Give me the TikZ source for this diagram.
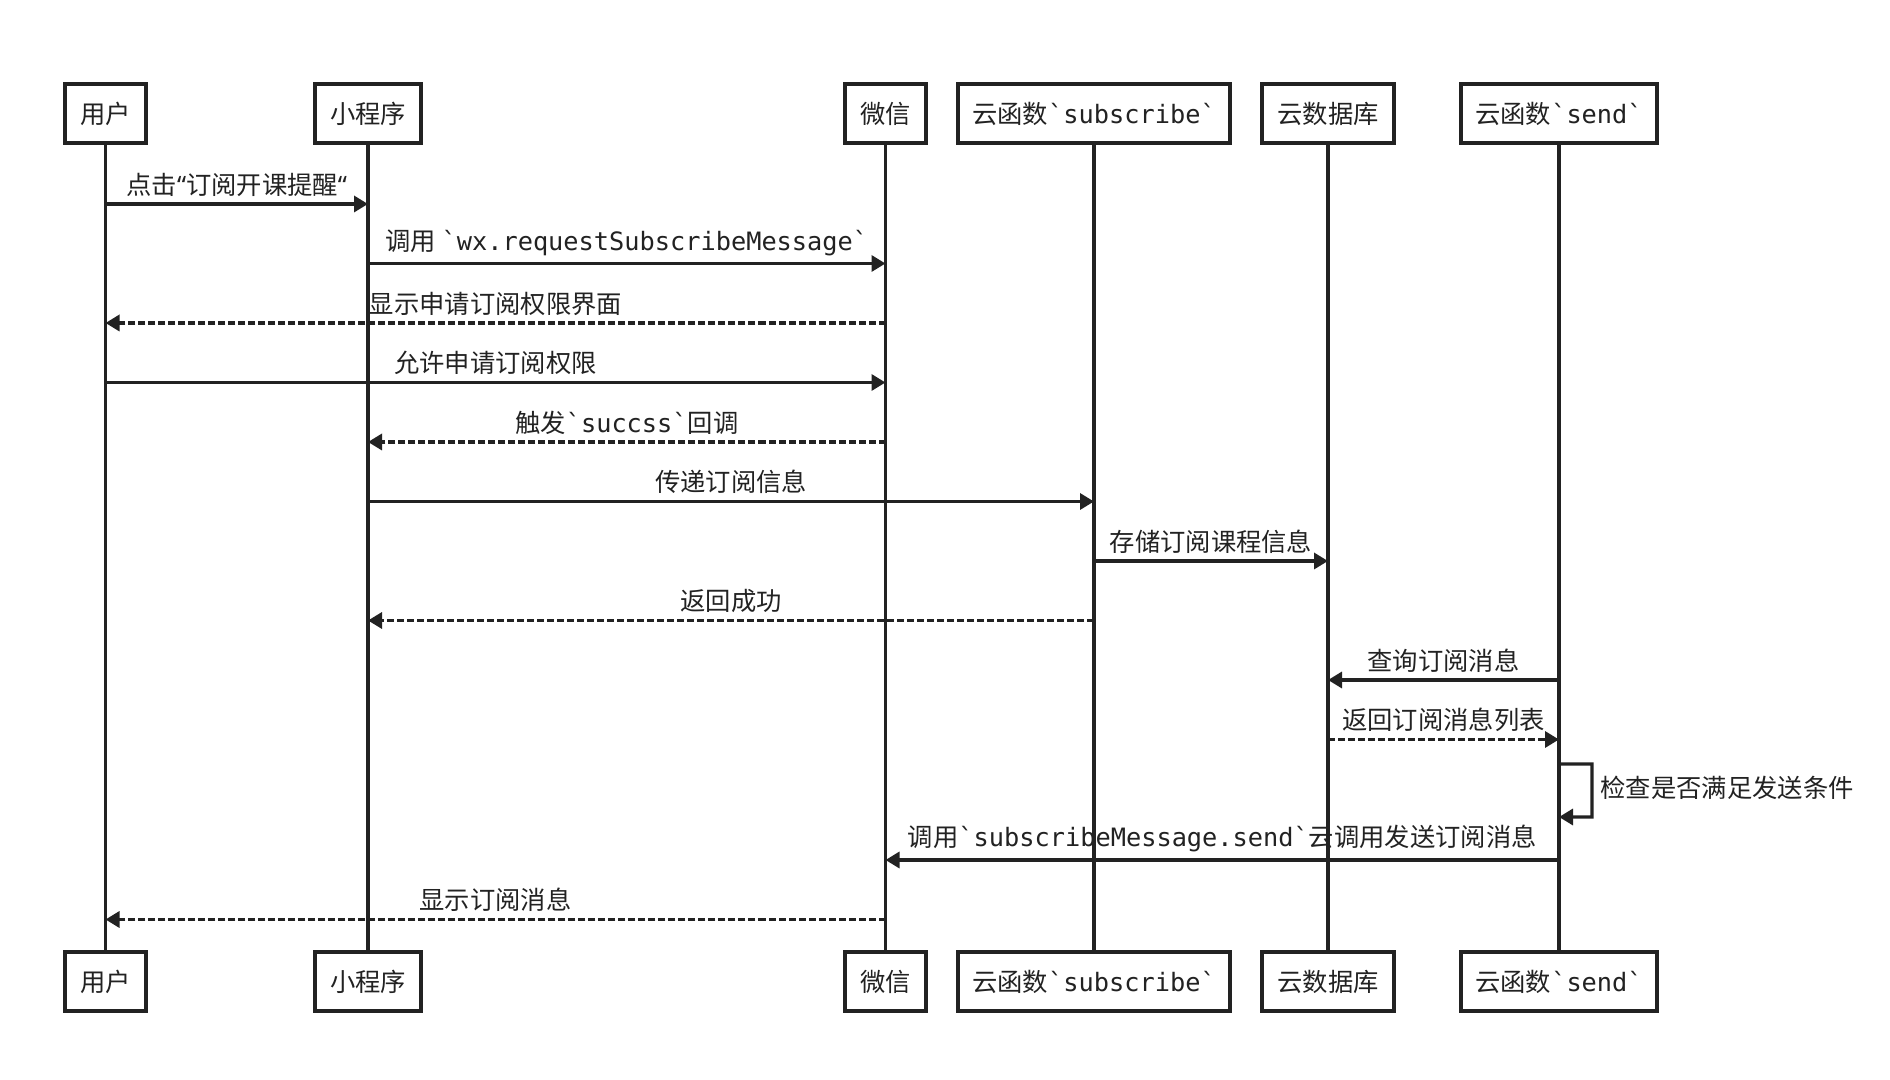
\documentclass[tikz,border=0pt]{standalone}
\usepackage{fontspec}
\setmainfont{Noto Sans CJK SC}
\setmonofont{DejaVu Sans Mono}
\newfontfamily\latinq{Noto Sans}
\usetikzlibrary{arrows.meta,positioning}
\definecolor{tinta}{RGB}{34,34,34}

\begin{document}
\begin{tikzpicture}[
font=\fontsize{7.2pt}{8.6pt}\selectfont,
actor/.style={draw=tinta,line width=1.2pt,fill=white,minimum height=0.59cm,inner sep=0pt,outer sep=0pt,text=tinta},
vida/.style={draw=tinta,line width=0.9pt},
msg/.style={-{Triangle[length=1.4mm,width=1.6mm]},line width=0.95pt,draw=tinta},
ret/.style={msg,dash pattern=on 0.07cm off 0.03cm},
lbl/.style={text=tinta,inner sep=0pt,above=0.06cm},
nota/.style={text=tinta,inner sep=0pt,right=0.07cm,yshift=0.03cm}
]
\useasboundingbox (0,0) rectangle (18.9,-10.8);

\node[actor,minimum width=0.81cm] (user) at (1.055,-1.135) {用户};
\node[actor,minimum width=1.06cm,right=1.69cm of user] (app) {小程序};
\node[actor,minimum width=0.81cm,right=4.24cm of app] (wechat) {微信};
\node[actor,minimum width=2.72cm,right=0.32cm of wechat] (subfn) {云函数\texttt{`subscribe`}};
\node[actor,minimum width=1.32cm,right=0.32cm of subfn] (db) {云数据库};
\node[actor,minimum width=1.96cm,right=0.67cm of db] (sendfn) {云函数\texttt{`send`}};

\node[actor,minimum width=0.81cm,below=8.09cm of user] (userb) {用户};
\node[actor,minimum width=1.06cm,below=8.09cm of app] (appb) {小程序};
\node[actor,minimum width=0.81cm,below=8.09cm of wechat] (wechatb) {微信};
\node[actor,minimum width=2.72cm,below=8.09cm of subfn] (subfnb) {云函数\texttt{`subscribe`}};
\node[actor,minimum width=1.32cm,below=8.09cm of db] (dbb) {云数据库};
\node[actor,minimum width=1.96cm,below=8.09cm of sendfn] (sendfnb) {云函数\texttt{`send`}};

\draw[vida] (user) -- (userb);
\draw[vida] (app) -- (appb);
\draw[vida] (wechat) -- (wechatb);
\draw[vida] (subfn) -- (subfnb);
\draw[vida] (db) -- (dbb);
\draw[vida] (sendfn) -- (sendfnb);

\coordinate (r1) at (0,-2.04);
\coordinate (r2) at (0,-2.635);
\coordinate (r3) at (0,-3.23);
\coordinate (r4) at (0,-3.825);
\coordinate (r5) at (0,-4.42);
\coordinate (r6) at (0,-5.015);
\coordinate (r7) at (0,-5.61);
\coordinate (r8) at (0,-6.205);
\coordinate (r9) at (0,-6.80);
\coordinate (r10) at (0,-7.395);
\coordinate (r11) at (0,-7.64);
\coordinate (r12) at (0,-8.17);
\coordinate (r13) at (0,-8.60);
\coordinate (r14) at (0,-9.195);

\draw[msg] (user |- r1) -- (app |- r1) node[lbl,midway] {点击{\latinq “}订阅开课提醒{\latinq “}};
\draw[msg] (app |- r2) -- (wechat |- r2) node[lbl,midway] {调用 \texttt{`wx.requestSubscribeMessage`}};
\draw[ret] (wechat |- r3) -- (user |- r3) node[lbl,midway] {显示申请订阅权限界面};
\draw[msg] (user |- r4) -- (wechat |- r4) node[lbl,midway] {允许申请订阅权限};
\draw[ret] (wechat |- r5) -- (app |- r5) node[lbl,midway] {触发\texttt{`succss`}回调};
\draw[msg] (app |- r6) -- (subfn |- r6) node[lbl,midway] {传递订阅信息};
\draw[msg] (subfn |- r7) -- (db |- r7) node[lbl,midway] {存储订阅课程信息};
\draw[ret] (subfn |- r8) -- (app |- r8) node[lbl,midway] {返回成功};
\draw[msg] (sendfn |- r9) -- (db |- r9) node[lbl,midway] {查询订阅消息};
\draw[ret] (db |- r10) -- (sendfn |- r10) node[lbl,midway] {返回订阅消息列表};
\draw[msg] (sendfn |- r11) -- ++(0.33,0) -- ++(0,-0.53) node[nota,midway] {检查是否满足发送条件} -- (sendfn |- r12);
\draw[msg] (sendfn |- r13) -- (wechat |- r13) node[lbl,midway] {调用\texttt{`subscribeMessage.send`}云调用发送订阅消息};
\draw[ret] (wechat |- r14) -- (user |- r14) node[lbl,midway] {显示订阅消息};
\end{tikzpicture}
\end{document}
